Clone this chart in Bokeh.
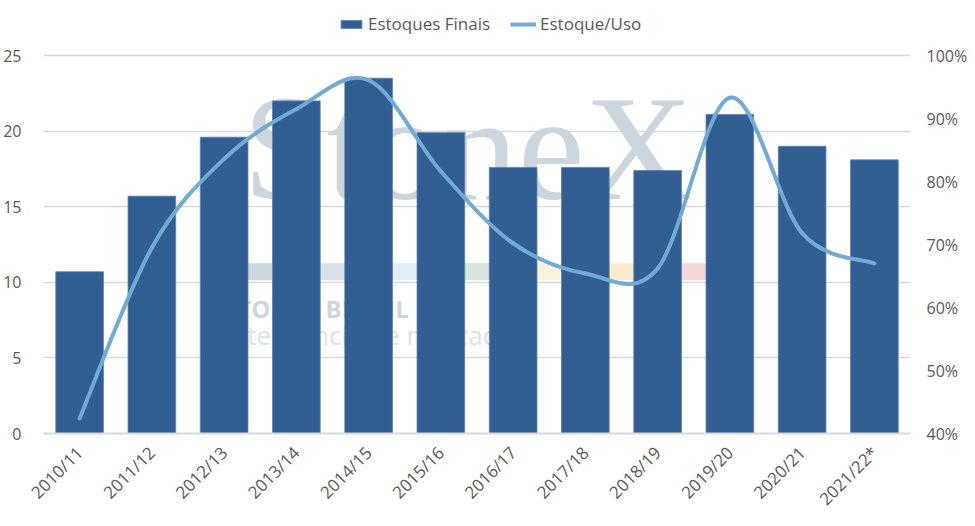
import math
from bokeh.plotting import figure
from bokeh.models import (Range1d, LinearAxis, Legend, LegendItem, Label, BoxAnnotation,
                          FixedTicker, PrintfTickFormatter, ColumnDataSource)
from bokeh.embed import file_html
from bokeh.resources import INLINE

# ---------------- data ----------------
seasons = ["2010/11", "2011/12", "2012/13", "2013/14", "2014/15", "2015/16",
           "2016/17", "2017/18", "2018/19", "2019/20", "2020/21", "2021/22*"]
estoques_finais = [10.7, 15.7, 19.6, 22.0, 23.5, 19.9, 17.6, 17.6, 17.4, 21.1, 19.0, 18.1]
estoque_uso = [42.4, 69.5, 83.6, 91.5, 96.1, 81.6, 70.2, 65.4, 66.2, 93.3, 71.8, 67.0]
left_ticks = [0, 5, 10, 15, 20, 25]
right_ticks = [40, 50, 60, 70, 80, 90, 100]

BAR = "#325f93"
LINE = "#72aad6"
TXT = "#595959"
GRID = "#d9d9d9"
FONT = "Open Sans"

idx = list(range(len(seasons)))

# frame spans from the legend row down to the zero line; headroom above 25 / 100 %
p = figure(width=975, height=526, output_backend="svg", toolbar_location=None,
           x_range=Range1d(-0.5, len(seasons) - 0.5), y_range=Range1d(0, 28.31),
           min_border_left=40, min_border_right=65, min_border_top=5, min_border_bottom=93)
p.outline_line_color = None
p.extra_y_ranges = {"pct": Range1d(40, 107.94)}

# ---------------- watermark ----------------
WM = "#cdd5dd"
p.add_layout(Label(x=2.26, y=13.4, text="StoneX", text_font="Liberation Serif",
                   text_font_size="150px", text_color=WM, level="underlay"))
strip_colors = ["#cdd5dd", "#d8e0ea", "#e4eef6", "#d6e4da", "#f9f3dc", "#fcebcd", "#f3d6d6"]
for k, c in enumerate(strip_colors):
    p.add_layout(BoxAnnotation(left=2.33 + k, right=min(3.33 + k, 8.72), bottom=10.13, top=11.26,
                               fill_color=c, fill_alpha=1, line_color=None, level="underlay"))
p.add_layout(Label(x=2.0, y=7.2, text="STONEX BRASIL", text_font=FONT, text_font_style="bold",
                   text_font_size="24px", text_color=WM, level="underlay"))
p.add_layout(Label(x=2.0, y=5.3, text="Inteligência de mercado", text_font=FONT,
                   text_font_size="26px", text_color="#dde3e9", level="underlay"))

# ---------------- bars ----------------
src = ColumnDataSource(dict(x=idx, top=estoques_finais))
bars = p.vbar(x="x", top="top", width=0.66, source=src, fill_color=BAR,
              line_color="#5b80ad", line_width=0.8)

# ---------------- smoothed line (bezier segments) ----------------
n = len(idx)
bz = dict(x0=[], y0=[], x1=[], y1=[], cx0=[], cy0=[], cx1=[], cy1=[])
for i in range(n - 1):
    pm = max(i - 1, 0)
    pp = min(i + 2, n - 1)
    bz["x0"].append(idx[i]); bz["y0"].append(estoque_uso[i])
    bz["x1"].append(idx[i + 1]); bz["y1"].append(estoque_uso[i + 1])
    bz["cx0"].append(idx[i] + (idx[i + 1] - idx[pm]) / 6)
    bz["cy0"].append(estoque_uso[i] + (estoque_uso[i + 1] - estoque_uso[pm]) / 6)
    bz["cx1"].append(idx[i + 1] - (idx[pp] - idx[i]) / 6)
    bz["cy1"].append(estoque_uso[i + 1] - (estoque_uso[pp] - estoque_uso[i]) / 6)
p.bezier(x0="x0", y0="y0", x1="x1", y1="y1", cx0="cx0", cy0="cy0", cx1="cx1", cy1="cy1",
         source=ColumnDataSource(bz), line_color=LINE, line_width=4, line_cap="round",
         y_range_name="pct")
legend_line = p.line(x=[0, 0], y=[-100, -100], line_color=LINE, line_width=4, y_range_name="pct")

# ---------------- axes ----------------
p.xaxis.ticker = FixedTicker(ticks=idx)
p.xaxis.major_label_overrides = {i: s for i, s in zip(idx, seasons)}
p.xaxis.major_label_orientation = math.pi / 4
p.xaxis.major_tick_line_color = None
p.xaxis.minor_tick_line_color = None
p.xaxis.axis_line_color = GRID
p.xaxis.axis_line_width = 2
p.xaxis.major_label_standoff = 10

p.yaxis.ticker = FixedTicker(ticks=left_ticks)
p.yaxis.axis_line_color = None
p.yaxis.major_tick_line_color = None
p.yaxis.minor_tick_line_color = None
p.yaxis.major_label_standoff = 16

ax_r = LinearAxis(y_range_name="pct", ticker=FixedTicker(ticks=right_ticks),
                  formatter=PrintfTickFormatter(format="%d%%"))
ax_r.axis_line_color = None
ax_r.major_tick_line_color = None
ax_r.minor_tick_line_color = None
ax_r.major_label_standoff = 10
p.add_layout(ax_r, "right")

for ax in [p.yaxis[0], ax_r]:
    ax.major_label_text_font = FONT
    ax.major_label_text_font_size = "16px"
    ax.major_label_text_color = TXT
p.xaxis.major_label_text_font = FONT
p.xaxis.major_label_text_font_size = "17px"
p.xaxis.major_label_text_color = TXT

p.xgrid.grid_line_color = None
p.ygrid.ticker = FixedTicker(ticks=left_ticks)
p.ygrid.grid_line_color = GRID
p.ygrid.grid_line_width = 1.5

# ---------------- legend ----------------
legend = Legend(items=[LegendItem(label="Estoques Finais", renderers=[bars]),
                       LegendItem(label="Estoque/Uso", renderers=[legend_line])],
                orientation="horizontal", location=(295, 398),
                label_text_font=FONT, label_text_font_size="17px", label_text_color=TXT,
                glyph_width=26, glyph_height=10, label_height=20, spacing=20, label_standoff=4,
                border_line_color=None, background_fill_alpha=0, padding=0, margin=0)
p.add_layout(legend, "center")

open("out.html", "w").write(file_html(p, INLINE))
